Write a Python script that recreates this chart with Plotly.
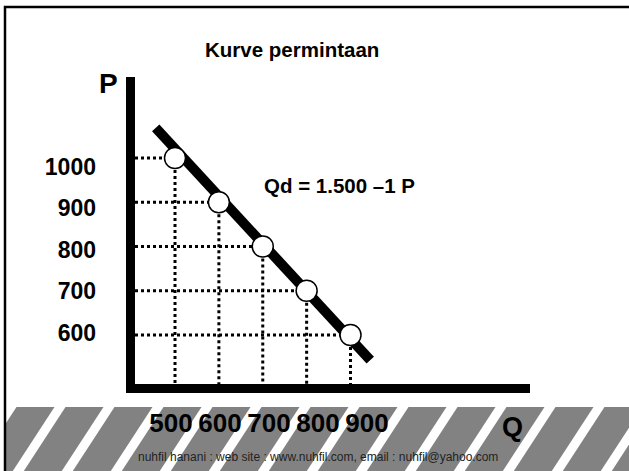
import plotly.graph_objects as go

# ---------------- data ----------------
quantity = [500, 600, 700, 800, 900]          # Q
price = [1000, 900, 800, 700, 600]            # P
demand_q = [456, 945]                          # demand curve ends (Q)
demand_p = [1068, 543]                         # demand curve ends (P)
x_tick_labels = ["500", "600", "700", "800", "900"]
y_tick_labels = ["1000", "900", "800", "700", "600"]
title_text = "Kurve permintaan"
equation_text = "Qd = 1.500 \u20131 P"
footer_text = "nuhfil hanani : web site : www.nuhfil.com, email : nuhfil@yahoo.com"

# ---------------- layout geometry ----------------
W, H = 629, 471
L, R, T, B = 135, 99, 77, 87
PW, PH = W - L - R, H - T - B
xr = [408.8, 1309.1]
yr = [489.3, 1183.0]
xr_lab = [426.5, 1232.6]
yr_lab = [477.5, 1215.0]


def px(x):
    return (x - L) / PW


def py(y):
    return (H - B - y) / PH


FONT = "Liberation Sans, Arial, sans-serif"
NARROW = "Liberation Sans Narrow, Arial Narrow, Liberation Sans, sans-serif"

fig = go.Figure()

# dotted guide lines
gx, gy = [], []
for q, p in zip(quantity, price):
    gx += [xr[0], q, None, q, q, None]
    gy += [p, p, None, p, yr[0], None]
fig.add_trace(go.Scatter(x=gx, y=gy, mode="lines",
                         line=dict(color="black", width=3, dash="dot"),
                         hoverinfo="skip", showlegend=False))

# demand curve
fig.add_trace(go.Scatter(x=demand_q, y=demand_p, mode="lines",
                         line=dict(color="black", width=10),
                         showlegend=False))

# points
fig.add_trace(go.Scatter(x=quantity, y=price, mode="markers",
                         marker=dict(size=21, color="white",
                                     line=dict(color="black", width=1.5)),
                         showlegend=False))

# invisible traces for label axes
fig.add_trace(go.Scatter(x=quantity, y=price, xaxis="x2", yaxis="y2",
                         mode="markers", marker=dict(opacity=0),
                         hoverinfo="skip", showlegend=False))

shapes = []
# grey band
shapes.append(dict(type="rect", xref="paper", yref="paper",
                   x0=px(6), x1=px(W + 2), y0=py(407), y1=py(H + 2),
                   fillcolor="#828282", line=dict(width=0), layer="below"))
# white diagonal stripes
c = 60 - 49 * 2
while c < W + 60:
    x_top0, x_top1 = c - 5.5, c + 5.5
    x_bot0, x_bot1 = c - 48.5, c - 37.5
    path = "M {} {} L {} {} L {} {} L {} {} Z".format(
        px(x_top0), py(407), px(x_top1), py(407),
        px(x_bot1), py(H + 2), px(x_bot0), py(H + 2))
    shapes.append(dict(type="path", xref="paper", yref="paper", path=path,
                       fillcolor="white", line=dict(width=0), layer="below"))
    c += 49
# cover anything left of the border
shapes.append(dict(type="rect", xref="paper", yref="paper",
                   x0=px(-5), x1=px(5), y0=py(H + 5), y1=py(0),
                   fillcolor="white", line=dict(width=0), layer="below"))
# slide border (left and top)
shapes.append(dict(type="path", xref="paper", yref="paper",
                   path="M {} {} L {} {} L {} {}".format(px(5), py(H + 5), px(5), py(7), px(W + 5), py(7)),
                   line=dict(color="black", width=2.5), layer="above"))

annotations = [
    dict(text="<b>" + title_text + "</b>", x=px(292), y=py(50), xref="paper", yref="paper",
         showarrow=False, font=dict(family=FONT, size=20.5, color="black"),
         xanchor="center", yanchor="middle"),
    dict(text="<b>P</b>", x=px(108), y=py(83), xref="paper", yref="paper",
         showarrow=False, font=dict(family=FONT, size=28, color="black"),
         xanchor="center", yanchor="middle"),
    dict(text="<b>Q</b>", x=px(512), y=py(427), xref="paper", yref="paper",
         showarrow=False, font=dict(family=FONT, size=27, color="black"),
         xanchor="center", yanchor="middle"),
    dict(text="<b>" + equation_text + "</b>", x=px(339), y=py(185), xref="paper", yref="paper",
         showarrow=False, font=dict(family=FONT, size=20.5, color="black"),
         xanchor="center", yanchor="middle"),
    dict(text=footer_text, x=px(318), y=py(457), xref="paper", yref="paper",
         showarrow=False, font=dict(family=NARROW, size=12, color="#222222"),
         xanchor="center", yanchor="middle"),
]

fig.update_layout(
    width=W, height=H,
    margin=dict(l=L, r=R, t=T, b=B),
    paper_bgcolor="white", plot_bgcolor="rgba(0,0,0,0)",
    showlegend=False,
    shapes=shapes, annotations=annotations,
    xaxis=dict(range=xr, showline=True, linewidth=9, linecolor="black",
               showgrid=False, zeroline=False, showticklabels=False, ticks=""),
    yaxis=dict(range=yr, showline=True, linewidth=9, linecolor="black",
               showgrid=False, zeroline=False, showticklabels=False, ticks=""),
    xaxis2=dict(range=xr_lab, overlaying="x", anchor="y", side="bottom",
                showline=False, showgrid=False, zeroline=False, ticks="",
                tickmode="array", tickvals=quantity, ticktext=x_tick_labels,
                tickfont=dict(family=NARROW, size=26, color="black", weight="bold"),
                ticklabelstandoff=21),
    yaxis2=dict(range=yr_lab, overlaying="y", anchor="x", side="left",
                showline=False, showgrid=False, zeroline=False, ticks="",
                tickmode="array", tickvals=price, ticktext=y_tick_labels,
                tickfont=dict(family=FONT, size=23, color="black", weight="bold"),
                ticklabelstandoff=38),
)

fig.write_html(
    "out.html",
    config={"displayModeBar": False},
    post_script="document.body.style.margin='0px';document.body.style.overflow='hidden';",
)
